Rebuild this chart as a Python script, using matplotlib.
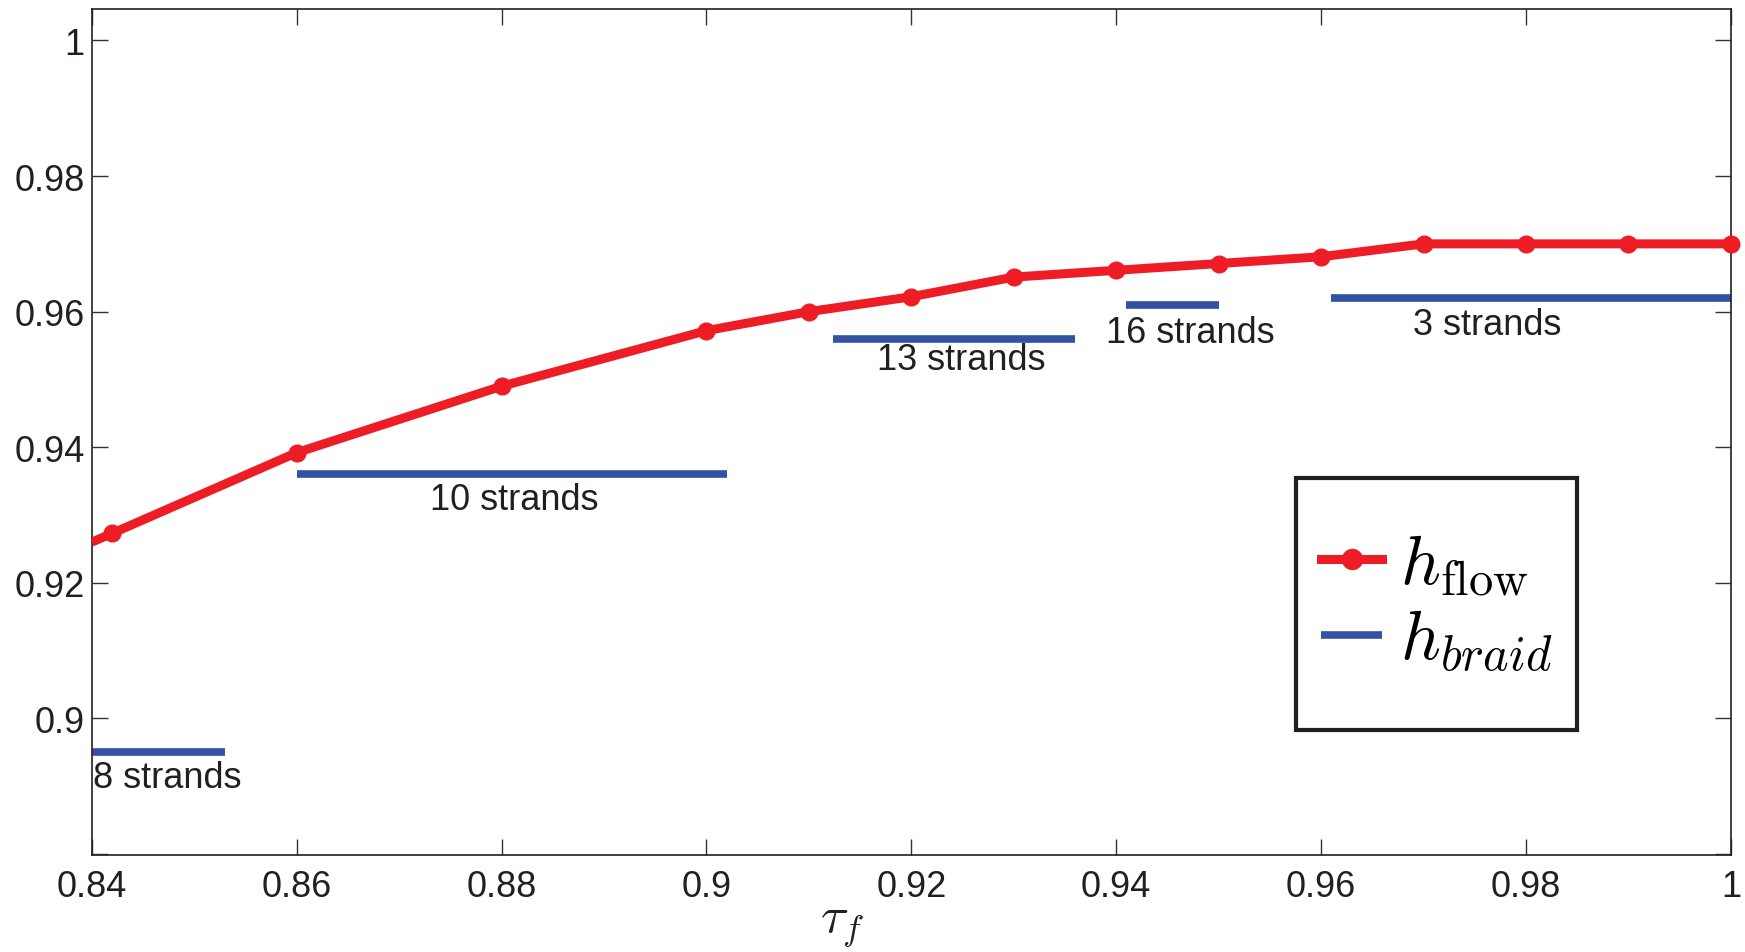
import matplotlib
matplotlib.use("Agg")
import matplotlib.pyplot as plt
from matplotlib.patches import Rectangle
from matplotlib.ticker import FuncFormatter

plt.rcParams['font.family'] = ['Liberation Sans', 'DejaVu Sans']
plt.rcParams['mathtext.fontset'] = 'cm'

# data
tau_f = [0.84, 0.842, 0.86, 0.88, 0.90, 0.91, 0.92, 0.93, 0.94, 0.95, 0.96, 0.97, 0.98, 0.99, 1.00]
h_flow = [0.9260, 0.9273, 0.9392, 0.9490, 0.9572, 0.9600, 0.9622, 0.9651, 0.9661, 0.9671, 0.9681, 0.9700, 0.9700, 0.9700, 0.9700]

braid_start = [0.84, 0.860, 0.9124, 0.941, 0.961]
braid_end = [0.853, 0.902, 0.936, 0.950, 1.000]
braid_h = [0.895, 0.936, 0.956, 0.961, 0.962]
braid_labels = ['8 strands', '10 strands', '13 strands', '16 strands', '3 strands']
label_x = [0.8474, 0.8812, 0.9249, 0.9472, 0.9762]
label_y = [0.8913, 0.9323, 0.9530, 0.9569, 0.9581]

xticks = [0.84, 0.86, 0.88, 0.90, 0.92, 0.94, 0.96, 0.98, 1.00]
yticks = [0.88, 0.90, 0.92, 0.94, 0.96, 0.98, 1.00]

red = '#ee1c24'
blue = '#3352a3'

fig = plt.figure(figsize=(17.45, 9.53), dpi=100)
ax = fig.add_axes([0.05255, 0.1021, 0.9394, 0.8871])

# red line (first point only continues the line to the left edge)
ax.plot(tau_f[1:], h_flow[1:], color=red, lw=6.5, marker='o', ms=12,
        clip_on=False, zorder=3, label=r'$h_{\mathrm{flow}}$')
ax.plot(tau_f[:2], h_flow[:2], color=red, lw=6.5, solid_capstyle='butt', zorder=3)

for i, (s, e, h) in enumerate(zip(braid_start, braid_end, braid_h)):
    ax.plot([s, e], [h, h], color=blue, lw=5.5, solid_capstyle='butt', zorder=2,
            label=r'$h_{braid}$' if i == 0 else None)
    ax.text(label_x[i], label_y[i], braid_labels[i], fontsize=26, color='#231f20',
            ha='center', va='center')

ax.set_xlim(0.84, 1.0)
ax.set_ylim(0.8799, 1.0046)
ax.set_xticks(xticks)
ax.set_yticks(yticks)

def fmt(v, pos):
    return '%g' % round(v, 4)

ax.xaxis.set_major_formatter(FuncFormatter(fmt))
ax.yaxis.set_major_formatter(FuncFormatter(lambda v, p: '' if abs(v - 0.88) < 1e-6 else fmt(v, p)))
ax.tick_params(direction='in', length=11.5, width=1.0, color='#333333',
               labelsize=26, labelcolor='#231f20', top=True, right=True)
ax.tick_params(axis='x', pad=10)
ax.tick_params(axis='y', pad=5)
for sp in ax.spines.values():
    sp.set_linewidth(1.2)
    sp.set_color('#231f20')

ax.set_xlabel(r'$\tau_f$', fontsize=37, color='#231f20')
ax.xaxis.set_label_coords(0.458, -0.053)

# legend with custom frame
leg = ax.legend(loc='center', bbox_to_anchor=(0.8204, 0.297), frameon=False,
                fontsize=50, handlelength=0.88, handletextpad=0.25, labelspacing=0.15,
                borderaxespad=0, markerscale=1.2)
rect = Rectangle((0.7347, 0.1475), 0.906 - 0.7347, 0.446 - 0.1475, transform=ax.transAxes,
                 fill=False, lw=3, edgecolor='#231f20', zorder=5)
ax.add_patch(rect)

fig.savefig('out.png', dpi=100)
